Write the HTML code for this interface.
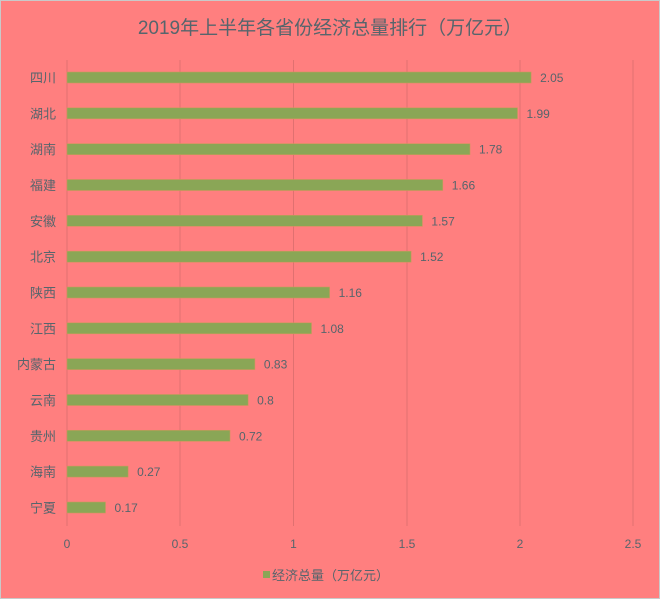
<!DOCTYPE html>
<html><head><meta charset="utf-8"><style>
html,body{margin:0;padding:0;background:#FF7F7F;}
svg{display:block;}
text{font-family:"Liberation Sans","Noto Sans CJK SC",sans-serif;fill:#56656c;}
</style></head><body>
<svg width="660" height="599" viewBox="0 0 660 599" xmlns="http://www.w3.org/2000/svg">
<rect x="0.5" y="0.5" width="659" height="598" fill="#FF7F7F" stroke="#c9c9c9"/>
<text x="330" y="34" font-size="19" text-anchor="middle">2019年上半年各省份经济总量排行（万亿元）</text>
<g stroke="#e07070" stroke-width="1">
<line x1="67" y1="60" x2="67" y2="526"/>
<line x1="180" y1="60" x2="180" y2="526"/>
<line x1="293.5" y1="60" x2="293.5" y2="526"/>
<line x1="407" y1="60" x2="407" y2="526"/>
<line x1="520" y1="60" x2="520" y2="526"/>
<line x1="633" y1="60" x2="633" y2="526"/>
</g>
<g font-size="12" text-anchor="middle">
<text x="67" y="548">0</text><text x="180" y="548">0.5</text><text x="293.5" y="548">1</text>
<text x="407" y="548">1.5</text><text x="520" y="548">2</text><text x="633" y="548">2.5</text>
</g>
<g fill="#8aa656" stroke="#c99a5a" stroke-width="0.6">
<rect x="67" y="72" width="464.1" height="11"/>
<rect x="67" y="107.8" width="450.5" height="11"/>
<rect x="67" y="143.7" width="403" height="11"/>
<rect x="67" y="179.5" width="375.8" height="11"/>
<rect x="67" y="215.3" width="355.4" height="11"/>
<rect x="67" y="251.2" width="344.1" height="11"/>
<rect x="67" y="287" width="262.6" height="11"/>
<rect x="67" y="322.8" width="244.5" height="11"/>
<rect x="67" y="358.6" width="187.9" height="11"/>
<rect x="67" y="394.5" width="181.1" height="11"/>
<rect x="67" y="430.3" width="163" height="11"/>
<rect x="67" y="466.1" width="61.1" height="11"/>
<rect x="67" y="502" width="38.5" height="11"/>
</g>
<g font-size="13" text-anchor="end">
<text x="56" y="82.5">四川</text>
<text x="56" y="118.3">湖北</text>
<text x="56" y="154.2">湖南</text>
<text x="56" y="190">福建</text>
<text x="56" y="225.8">安徽</text>
<text x="56" y="261.7">北京</text>
<text x="56" y="297.5">陕西</text>
<text x="56" y="333.3">江西</text>
<text x="56" y="369.1">内蒙古</text>
<text x="56" y="405">云南</text>
<text x="56" y="440.8">贵州</text>
<text x="56" y="476.6">海南</text>
<text x="56" y="512.5">宁夏</text>
</g>
<g font-size="12">
<text x="540.1" y="82">2.05</text>
<text x="526.5" y="117.8">1.99</text>
<text x="479" y="153.7">1.78</text>
<text x="451.8" y="189.5">1.66</text>
<text x="431.4" y="225.3">1.57</text>
<text x="420.1" y="261.2">1.52</text>
<text x="338.6" y="297">1.16</text>
<text x="320.5" y="332.8">1.08</text>
<text x="263.9" y="368.6">0.83</text>
<text x="257.1" y="404.5">0.8</text>
<text x="239" y="440.3">0.72</text>
<text x="137.1" y="476.1">0.27</text>
<text x="114.5" y="512">0.17</text>
</g>
<rect x="263" y="571" width="7" height="7" fill="#8aa656"/>
<text x="272" y="580" font-size="13">经济总量（万亿元）</text>
</svg>
</body></html>
